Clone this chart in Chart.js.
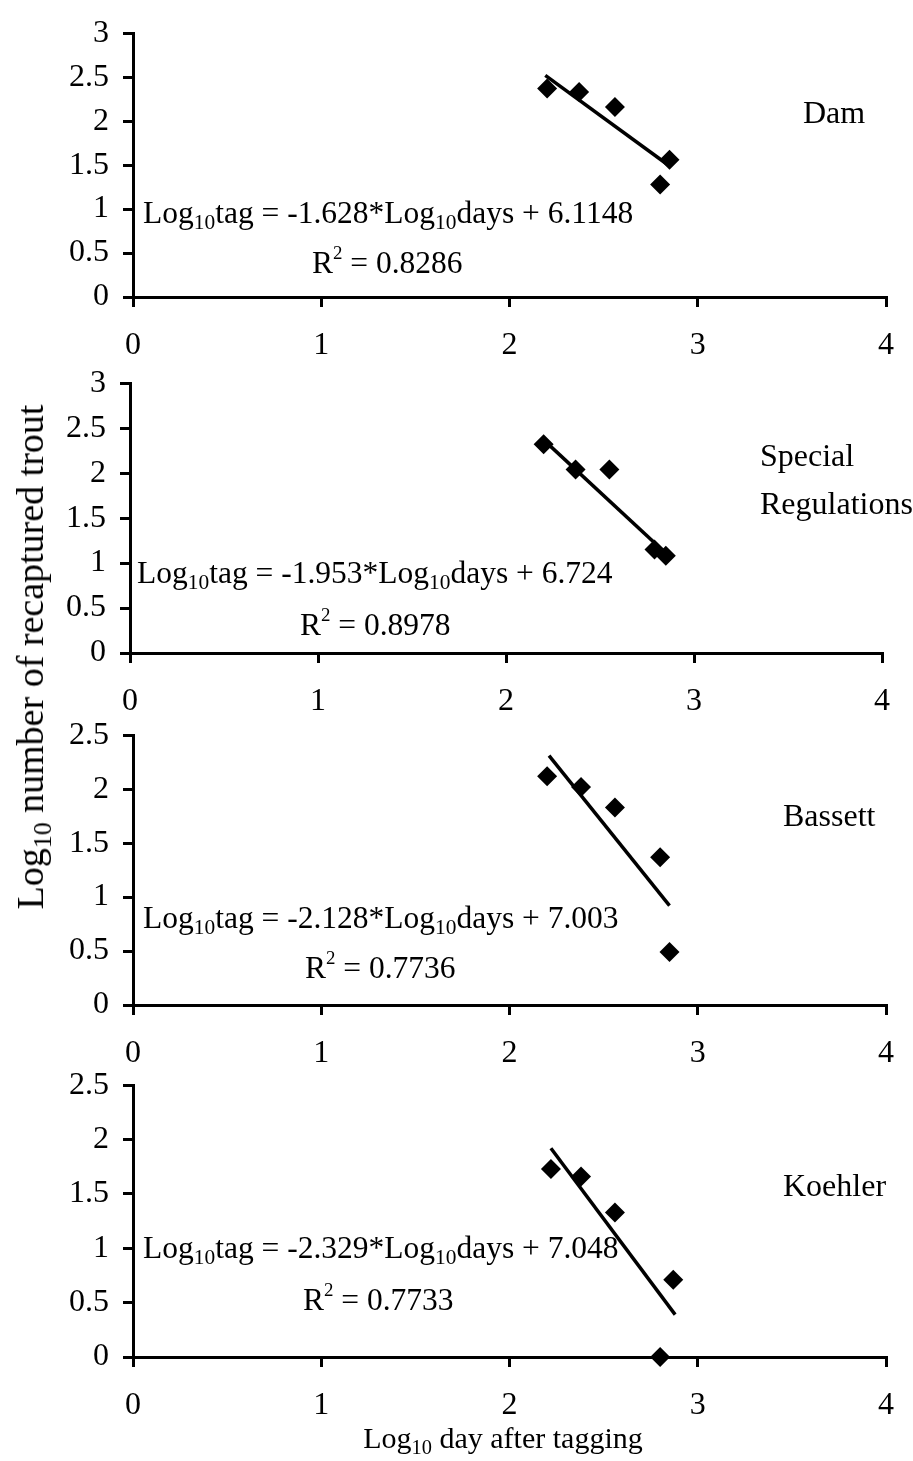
<!DOCTYPE html>
<html>
<head>
<meta charset="utf-8">
<script src="https://cdn.jsdelivr.net/npm/chart.js@4"></script>
<style>
body { margin: 0; background: #fff; width: 913px; height: 1461px; position: relative; overflow: hidden; font-family: "Liberation Serif", "Times New Roman", serif; }
canvas { position: absolute; left: 0; }
.t { position: absolute; font-size: 32px; line-height: 32px; white-space: nowrap; color: #000; transform: translateY(-50%); }
.t.eq { font-size: 31.5px; }
.t sub { font-size: 0.68em; vertical-align: -0.3em; line-height: 0; }
.t sup { font-size: 0.6em; vertical-align: 0.75em; line-height: 0; }
#xtitle { font-size: 30px; left: 503px; top: 1438px; transform: translate(-50%, -50%); }
#ytitle { position: absolute; font-size: 38px; white-space: nowrap; left: 30px; top: 657px; transform: translate(-50%, -50%) rotate(-90deg); }
#ytitle sub { font-size: 0.68em; vertical-align: -0.3em; line-height: 0; }
</style>
</head>
<body>
<canvas id="c1" width="913" height="372" style="top:0px"></canvas>
<canvas id="c2" width="913" height="378" style="top:350px"></canvas>
<canvas id="c3" width="913" height="378" style="top:702px"></canvas>
<canvas id="c4" width="913" height="380" style="top:1052px"></canvas>

<div class="t" style="left:803px;top:112px">Dam</div>
<div class="t eq" style="left:143px;top:213px">Log<sub>10</sub>tag = -1.628*Log<sub>10</sub>days + 6.1148</div>
<div class="t eq" style="left:312px;top:263px">R<sup>2</sup> = 0.8286</div>

<div class="t" style="left:760px;top:455px">Special</div>
<div class="t" style="left:760px;top:503px">Regulations</div>
<div class="t eq" style="left:137px;top:573px">Log<sub>10</sub>tag = -1.953*Log<sub>10</sub>days + 6.724</div>
<div class="t eq" style="left:300px;top:625px">R<sup>2</sup> = 0.8978</div>

<div class="t" style="left:783px;top:815px">Bassett</div>
<div class="t eq" style="left:143px;top:918px">Log<sub>10</sub>tag = -2.128*Log<sub>10</sub>days + 7.003</div>
<div class="t eq" style="left:305px;top:968px">R<sup>2</sup> = 0.7736</div>

<div class="t" style="left:783px;top:1185px">Koehler</div>
<div class="t eq" style="left:143px;top:1248px">Log<sub>10</sub>tag = -2.329*Log<sub>10</sub>days + 7.048</div>
<div class="t eq" style="left:303px;top:1300px">R<sup>2</sup> = 0.7733</div>

<div class="t" id="xtitle">Log<sub>10</sub> day after tagging</div>
<div id="ytitle">Log<sub>10</sub> number of recaptured trout</div>

<script>
// log10 days after tagging / log10 number of tagged trout recaptured
const damX = [2.20, 2.37, 2.56, 2.85, 2.80];
const damY = [2.37, 2.33, 2.16, 1.56, 1.28];
const damTrendX = [2.19, 2.85];
const damTrendY = [2.52, 1.49];

const specX = [2.20, 2.37, 2.55, 2.79, 2.85];
const specY = [2.32, 2.04, 2.04, 1.15, 1.08];
const specTrendX = [2.20, 2.87];
const specTrendY = [2.37, 1.07];

const basX = [2.20, 2.38, 2.56, 2.80, 2.85];
const basY = [2.12, 2.02, 1.83, 1.37, 0.49];
const basTrendX = [2.21, 2.85];
const basTrendY = [2.31, 0.92];

const koeX = [2.22, 2.38, 2.56, 2.87, 2.80];
const koeY = [1.73, 1.66, 1.33, 0.71, 0.00];
const koeTrendX = [2.22, 2.88];
const koeTrendY = [1.92, 0.39];

const xTicks = [0, 1, 2, 3, 4];

function pts(xs, ys) {
	return xs.map((x, i) => ({ x: x, y: ys[i] }));
}

const font = { family: 'Liberation Serif', size: 32 };

function makePanel(id, xs, ys, tx, ty, yMax, padTop, left, right) {
	const ctx = document.getElementById(id).getContext('2d');
	new Chart(ctx, {
		type: 'scatter',
		data: {
			datasets: [{
				data: pts(xs, ys),
				pointStyle: 'rectRot',
				pointRadius: 10,
				backgroundColor: '#000',
				borderColor: '#000',
				borderWidth: 0,
				clip: false
			}, {
				data: pts(tx, ty),
				showLine: true,
				borderColor: '#000',
				borderWidth: 3.5,
				pointRadius: 0,
				fill: false
			}]
		},
		options: {
			responsive: false,
			animation: false,
			events: [],
			layout: { padding: { top: padTop, right: 913 - right, left: 0, bottom: 0 } },
			plugins: { legend: { display: false }, tooltip: { enabled: false } },
			scales: {
				x: {
					type: 'linear', min: 0, max: 4,
					afterBuildTicks: s => { s.ticks = xTicks.map(v => ({ value: v })); },
					ticks: { color: '#000', font: font, padding: 19, maxRotation: 0, callback: v => String(v) },
					grid: { drawOnChartArea: false, tickLength: 10, color: '#000', lineWidth: 3 },
					border: { color: '#000', width: 3 },
					afterFit: s => { s.height = 75; }
				},
				y: {
					min: 0, max: yMax,
					ticks: { stepSize: 0.5, color: '#000', font: font, padding: 14, callback: v => String(v) },
					grid: { drawOnChartArea: false, tickLength: 10, color: '#000', lineWidth: 3 },
					border: { color: '#000', width: 3 },
					afterFit: s => { s.width = left; }
				}
			}
		}
	});
}

makePanel('c1', damX, damY, damTrendX, damTrendY, 3, 20, 133, 890);
makePanel('c2', specX, specY, specTrendX, specTrendY, 3, 25, 130, 882);
makePanel('c3', basX, basY, basTrendX, basTrendY, 2.5, 25, 133, 888);
makePanel('c4', koeX, koeY, koeTrendX, koeTrendY, 2.5, 25, 133, 888);
</script>
</body>
</html>
